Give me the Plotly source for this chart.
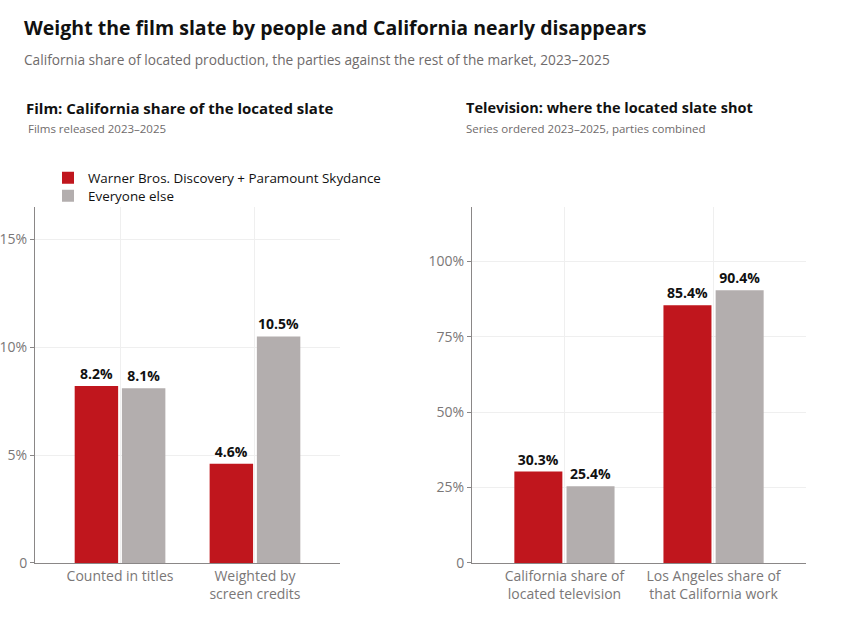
import plotly.graph_objects as go

RED = "#c0161d"
GREY = "#b3aeae"
INK = "#111111"
MUTED = "#6f6b6b"
TICK = "#7a7777"
AXIS = "#8a8787"
GRID = "#efefef"
FONT = "'Open Sans', Lato, sans-serif"

W, H = 862, 640
K = 0.986  # the screenshot comes out a touch squashed vertically, measured against it

series_names = ["Warner Bros. Discovery + Paramount Skydance", "Everyone else"]

film_categories = ["Counted in titles", "Weighted by<br>screen credits"]
film_parties = [8.2, 4.6]
film_others = [8.1, 10.5]
film_ticks = [0, 5, 10, 15]
film_tick_labels = ["0", "5%", "10%", "15%"]

tv_categories = ["California share of<br>located television", "Los Angeles share of<br>that California work"]
tv_parties = [30.3, 85.4]
tv_others = [25.4, 90.4]
tv_ticks = [0, 25, 50, 75, 100]
tv_tick_labels = ["0", "25%", "50%", "75%", "100%"]


def px(x):
    return x / W


def py(y):
    return 1 - (y / K) / H


fig = go.Figure()

for xa, ya, cats, a, b, leg in (
    ("x", "y", film_categories, film_parties, film_others, True),
    ("x2", "y2", tv_categories, tv_parties, tv_others, False),
):
    # each series gets its own legend box so the two rows sit as tight as the original
    for name, vals, color, lg in ((series_names[0], a, RED, "legend"), (series_names[1], b, GREY, "legend2")):
        fig.add_trace(go.Bar(
            x=cats, y=vals, name=name, marker_color=color, marker_line_width=0,
            xaxis=xa, yaxis=ya, showlegend=leg, legend=lg,
            text=[f"{v:.1f}%" for v in vals], textposition="outside",
            textfont=dict(family=FONT, size=14, color=INK, weight="bold"),
            cliponaxis=False,
        ))

ydom = [py(563), py(207)]
axis_common = dict(
    showline=True, linecolor=AXIS, linewidth=1,
    tickfont=dict(family=FONT, size=14, color=TICK),
    showgrid=True, gridcolor=GRID, zeroline=False,
)
legend_common = dict(
    xanchor="left", yanchor="middle",
    font=dict(family=FONT, size=13.4, color=INK),
    bgcolor="rgba(0,0,0,0)", itemwidth=30,
)

fig.update_layout(
    width=W, height=H,
    margin=dict(l=0, r=0, t=0, b=0),
    paper_bgcolor="white", plot_bgcolor="white",
    font=dict(family=FONT, color=INK),
    barmode="group", bargap=0.3, bargroupgap=0.08,
    showlegend=True,
    legend=dict(x=px(48), y=py(178), **legend_common),
    legend2=dict(x=px(48), y=py(196), **legend_common),
    xaxis=dict(domain=[px(35), px(340)], range=[-0.63, 1.63], ticks="", anchor="y", **axis_common),
    yaxis=dict(domain=ydom, range=[0, 16.5], tickvals=film_ticks, ticktext=film_tick_labels,
               ticks="outside", ticklen=4, tickcolor=AXIS, anchor="x", **axis_common),
    xaxis2=dict(domain=[px(472), px(806)], range=[-0.62, 1.62], ticks="", anchor="y2", **axis_common),
    yaxis2=dict(domain=ydom, range=[0, 118], tickvals=tv_ticks, ticktext=tv_tick_labels,
                ticks="outside", ticklen=4, tickcolor=AXIS, anchor="x2", **axis_common),
)

texts = [
    (22, 28, "Weight the film slate by people and California nearly disappears", 19.5, INK, True),
    (22, 60, "California share of located production, the parties against the rest of the market, 2023–2025", 13.7, MUTED, False),
    (24, 108, "Film: California share of the located slate", 15, INK, True),
    (26, 129, "Films released 2023–2025", 11.5, MUTED, False),
    (464, 108, "Television: where the located slate shot", 14.5, INK, True),
    (464, 129, "Series ordered 2023–2025, parties combined", 11.5, MUTED, False),
]
for x, y, t, size, color, bold in texts:
    fig.add_annotation(
        x=px(x), y=py(y), xref="paper", yref="paper", xanchor="left", yanchor="middle",
        text=t, showarrow=False,
        font=dict(family=FONT, size=size, color=color, weight="bold" if bold else "normal"),
    )

# page body has an 8px margin by default; drop it so the figure sits at 0,0
fig.write_html("out.html", config={"displayModeBar": False},
               post_script="document.body.style.margin='0';")
